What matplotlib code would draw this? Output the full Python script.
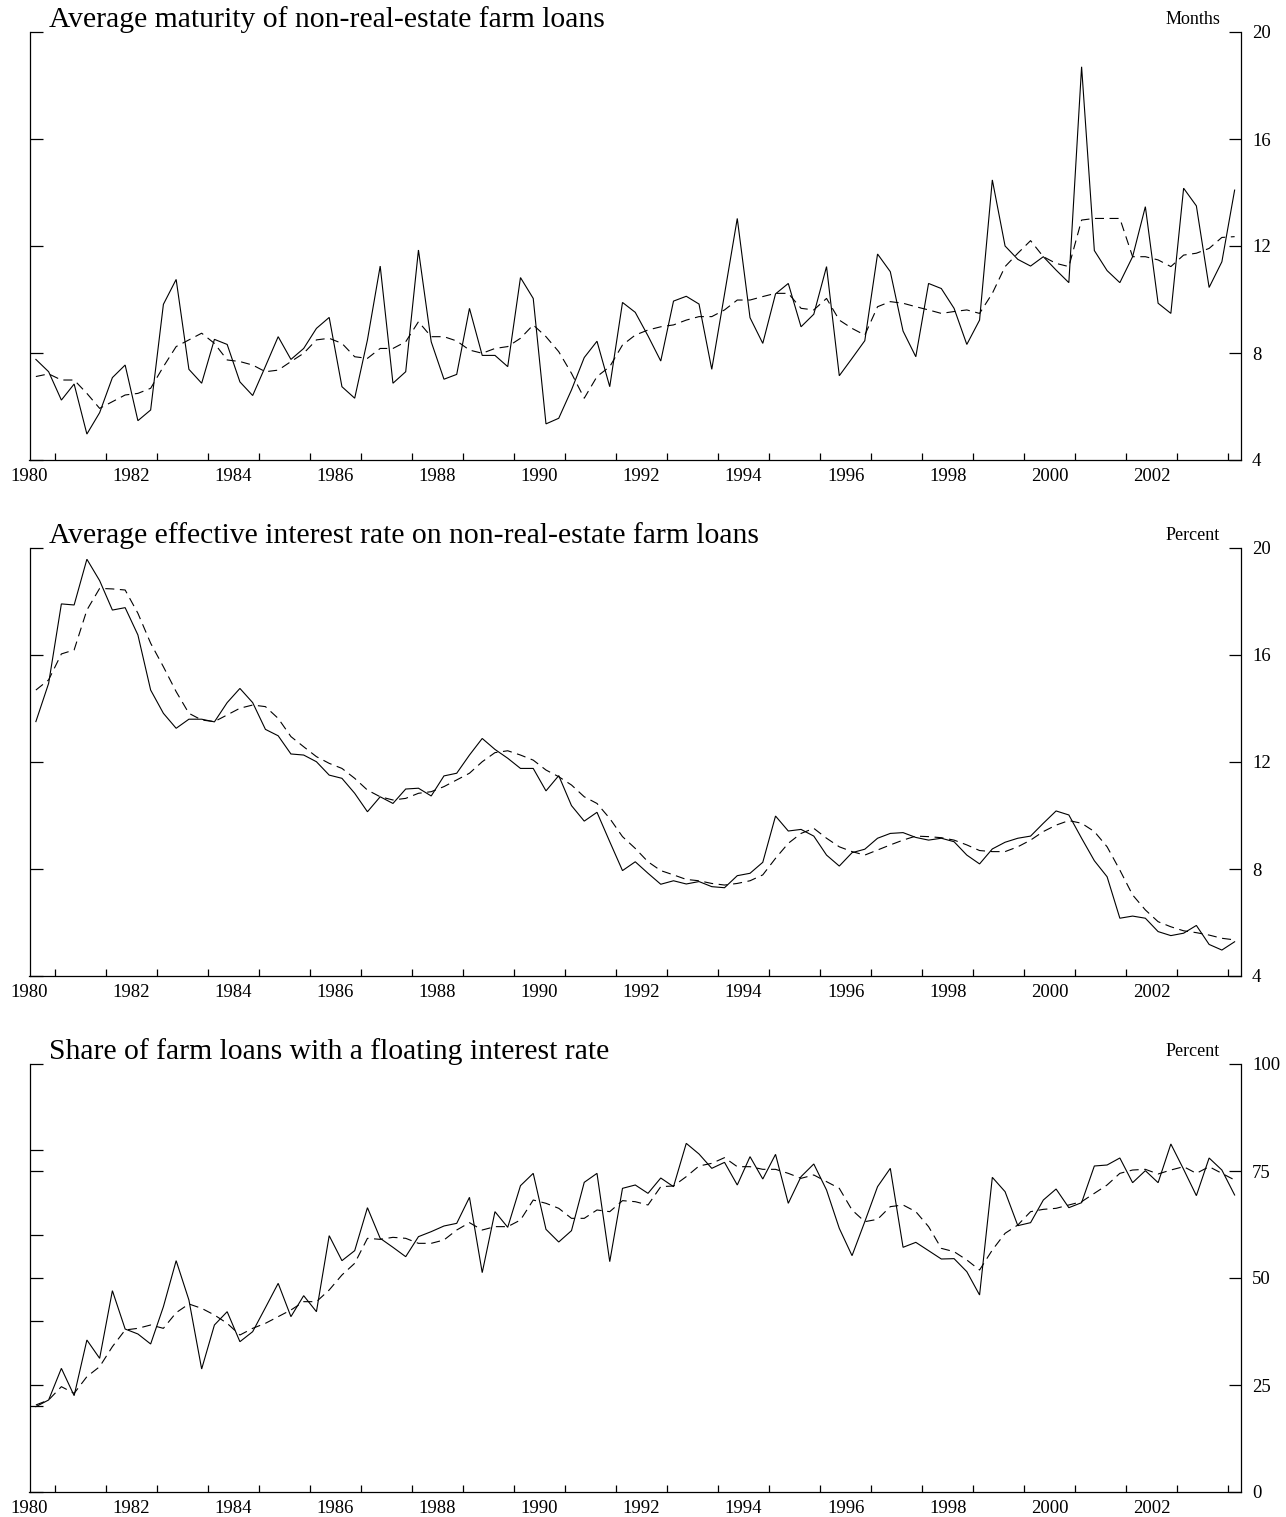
import numpy as np
import pandas as pd
import matplotlib
matplotlib.use("Agg")
import matplotlib.pyplot as plt
from matplotlib.ticker import FixedLocator, NullFormatter

plt.rcParams['font.family'] = ['Liberation Serif', 'DejaVu Serif']
plt.rcParams['lines.scale_dashes'] = False

# ---------------- data (quarterly, 1980Q1 - 2003Q3) ----------------
start_quarter = '1980Q1'
n_quarters = 95

maturity = [7.76, 7.30, 6.24, 6.84, 4.97, 5.77, 7.08, 7.55, 5.47, 5.87,
            9.82, 10.75, 7.39, 6.87, 8.51, 8.32, 6.92, 6.41, 7.50, 8.61,
            7.76, 8.17, 8.92, 9.33, 6.74, 6.31, 8.49, 11.25, 6.87, 7.30,
            11.85, 8.42, 7.02, 7.20, 9.67, 7.91, 7.91, 7.49, 10.82, 10.04,
            5.35, 5.56, 6.62, 7.83, 8.44, 6.74, 9.89, 9.52, 8.64, 7.70,
            9.94, 10.12, 9.83, 7.39, 10.20, 13.03, 9.32, 8.36, 10.21, 10.60,
            8.98, 9.45, 11.23, 7.15, 7.80, 8.46, 11.70, 11.04, 8.82, 7.86,
            10.60, 10.41, 9.67, 8.32, 9.23, 14.47, 12.00, 11.50, 11.25, 11.60,
            11.10, 10.63, 18.70, 11.83, 11.08, 10.63, 11.60, 13.47, 9.86, 9.48,
            14.16, 13.50, 10.45, 11.41, 14.09]
maturity_avg = [7.12, 7.22, 6.99, 6.99, 6.49, 5.93, 6.18, 6.43, 6.49, 6.68,
                7.49, 8.24, 8.49, 8.74, 8.36, 7.74, 7.68, 7.55, 7.30, 7.36,
                7.68, 7.99, 8.49, 8.55, 8.36, 7.86, 7.80, 8.17, 8.17, 8.42,
                9.17, 8.61, 8.61, 8.45, 8.11, 7.99, 8.17, 8.24, 8.55, 9.05,
                8.61, 8.05, 7.24, 6.31, 7.12, 7.49, 8.30, 8.67, 8.86, 8.98,
                9.05, 9.23, 9.36, 9.36, 9.61, 9.98, 9.98, 10.11, 10.23, 10.23,
                9.67, 9.61, 10.04, 9.23, 8.92, 8.67, 9.73, 9.92, 9.86, 9.73,
                9.61, 9.48, 9.55, 9.61, 9.48, 10.23, 11.23, 11.73, 12.20, 11.60,
                11.35, 11.23, 12.97, 13.03, 13.03, 13.03, 11.60, 11.60, 11.48, 11.23,
                11.66, 11.73, 11.91, 12.32, 12.35]

rate = [13.51, 14.94, 17.91, 17.87, 19.58, 18.78, 17.68, 17.77, 16.75, 14.69,
        13.82, 13.26, 13.60, 13.60, 13.50, 14.22, 14.75, 14.22, 13.22, 12.98,
        12.30, 12.26, 12.01, 11.51, 11.39, 10.83, 10.14, 10.70, 10.45, 10.99,
        11.02, 10.73, 11.48, 11.58, 12.26, 12.88, 12.47, 12.14, 11.76, 11.76,
        10.92, 11.49, 10.37, 9.79, 10.12, 9.02, 7.94, 8.27, 7.84, 7.43,
        7.56, 7.44, 7.53, 7.34, 7.30, 7.75, 7.84, 8.25, 9.98, 9.42,
        9.48, 9.23, 8.52, 8.11, 8.61, 8.74, 9.15, 9.33, 9.36, 9.18,
        9.08, 9.15, 9.02, 8.52, 8.19, 8.75, 9.00, 9.15, 9.23, 9.71,
        10.17, 10.02, 9.15, 8.31, 7.71, 6.16, 6.24, 6.16, 5.66, 5.51,
        5.60, 5.89, 5.18, 4.97, 5.28]
rate_avg = [14.69, 15.07, 16.04, 16.19, 17.68, 18.49, 18.47, 18.43, 17.56, 16.44,
            15.56, 14.63, 13.82, 13.57, 13.51, 13.76, 14.01, 14.13, 14.07, 13.63,
            12.95, 12.57, 12.20, 11.95, 11.76, 11.39, 10.95, 10.70, 10.58, 10.64,
            10.83, 10.89, 11.08, 11.33, 11.58, 12.01, 12.35, 12.42, 12.26, 12.07,
            11.70, 11.45, 11.14, 10.70, 10.45, 9.89, 9.21, 8.77, 8.27, 7.94,
            7.78, 7.61, 7.56, 7.46, 7.40, 7.46, 7.56, 7.78, 8.40, 8.96,
            9.33, 9.52, 9.15, 8.83, 8.65, 8.52, 8.71, 8.90, 9.08, 9.23,
            9.21, 9.17, 9.08, 8.90, 8.69, 8.65, 8.65, 8.83, 9.08, 9.40,
            9.64, 9.81, 9.71, 9.40, 8.83, 7.96, 7.03, 6.47, 6.03, 5.84,
            5.69, 5.62, 5.53, 5.41, 5.35]

floating = [19.94, 21.50, 28.89, 22.51, 35.51, 31.23, 47.04, 38.08, 36.92, 34.58,
            43.30, 54.05, 44.86, 28.74, 39.02, 42.13, 35.12, 37.46, 43.07, 48.75,
            40.97, 45.87, 42.13, 59.89, 54.05, 56.39, 66.43, 59.27, 57.17, 54.98,
            59.66, 60.83, 62.15, 62.77, 68.85, 51.25, 65.50, 61.84, 71.57, 74.45,
            61.37, 58.41, 61.06, 72.35, 74.45, 53.82, 70.95, 71.73, 69.78, 73.36,
            71.34, 81.46, 78.97, 75.62, 77.02, 71.73, 78.35, 73.13, 78.89, 67.45,
            73.68, 76.64, 70.56, 61.60, 55.22, 63.16, 71.34, 75.62, 57.17, 58.33,
            56.39, 54.44, 54.52, 51.48, 46.03, 73.52, 70.17, 62.23, 62.93, 68.22,
            70.79, 66.43, 67.60, 76.17, 76.40, 78.04, 72.27, 75.08, 72.27, 81.31,
            75.39, 69.24, 78.04, 75.23, 69.39]
floating_avg = [20.33, 21.50, 24.61, 23.05, 26.95, 29.28, 33.96, 37.85, 38.24, 39.02,
                38.24, 41.90, 43.93, 42.91, 41.36, 39.41, 36.68, 38.24, 39.41, 40.97,
                42.52, 44.47, 44.47, 47.20, 50.70, 53.43, 59.27, 59.03, 59.50, 59.27,
                58.10, 58.10, 58.88, 61.21, 62.93, 61.21, 62.00, 62.00, 63.55, 68.22,
                67.45, 66.28, 63.94, 63.94, 65.89, 65.50, 68.07, 67.83, 67.06, 71.34,
                71.50, 73.68, 76.17, 76.79, 78.12, 76.01, 76.01, 75.39, 75.39, 74.45,
                73.29, 74.07, 72.51, 70.95, 65.89, 63.16, 63.71, 66.67, 67.06, 65.50,
                62.00, 56.93, 56.15, 54.21, 51.87, 56.54, 60.44, 62.38, 65.50, 66.04,
                66.28, 67.06, 67.83, 69.78, 71.73, 74.45, 75.23, 75.39, 74.30, 75.23,
                76.01, 74.45, 76.01, 74.45, 72.90]

titles = ['Average maturity of non-real-estate farm loans',
          'Average effective interest rate on non-real-estate farm loans',
          'Share of farm loans with a floating interest rate']
units = ['Months', 'Percent', 'Percent']
ylims = [(4, 20), (4, 20), (0, 100)]
yticks = [[4, 8, 12, 16, 20], [4, 8, 12, 16, 20], [0, 25, 50, 75, 100]]
yticks_left_extra = [[], [], [20, 40, 60, 80]]
xlabel_years = list(range(1980, 2003, 2))

# quarter midpoints as decimal years
periods = pd.period_range(start_quarter, periods=n_quarters, freq='Q')
t = np.array([p.year + (p.quarter - 1) * 0.25 + 0.125 for p in periods])

series = [(maturity, maturity_avg), (rate, rate_avg), (floating, floating_avg)]

W, H = 1286, 1517
fig = plt.figure(figsize=(W / 100, H / 100), dpi=100)
fig.patch.set_facecolor('white')

left_px, right_px = 29.5, 1241.0
panels_px = [(32, 460), (548, 976), (1064, 1492)]

for i, ((solid, dashed), (top, bot)) in enumerate(zip(series, panels_px)):
    ax = fig.add_axes([left_px / W, 1 - bot / H, (right_px - left_px) / W, (bot - top) / H])
    ax.plot(t, solid, color='black', lw=0.8, solid_joinstyle='miter')
    ax.plot(t, dashed, color='black', lw=0.8, linestyle=(0, (6.5, 4.0)))
    ax.set_xlim(1980.0, 2003.75)
    ax.set_ylim(*ylims[i])

    for s in ['left', 'right', 'bottom']:
        ax.spines[s].set_linewidth(0.9)
    ax.spines['top'].set_visible(False)

    # x axis: labels at even years (no mark), tick marks mid-year
    ax.xaxis.set_major_locator(FixedLocator(xlabel_years))
    ax.set_xticklabels([str(y) for y in xlabel_years])
    ax.xaxis.set_minor_locator(FixedLocator([y + 0.5 for y in range(1980, 2004)]))
    ax.xaxis.set_minor_formatter(NullFormatter())
    ax.tick_params(axis='x', which='major', length=0, pad=6, labelsize=13.5)
    ax.tick_params(axis='x', which='minor', direction='in', length=5, width=0.9,
                   bottom=True, top=False)

    # y axis: labels on right, ticks inward on both sides
    ax.yaxis.set_major_locator(FixedLocator(yticks[i]))
    ax.set_yticklabels([str(v) for v in yticks[i]])
    ax.tick_params(axis='y', which='major', direction='in', length=9, width=0.9,
                   left=True, right=True, labelleft=False, labelright=True,
                   pad=8, labelsize=13.5)
    if yticks_left_extra[i]:
        ax.yaxis.set_minor_locator(FixedLocator(yticks_left_extra[i]))
        ax.yaxis.set_minor_formatter(NullFormatter())
        ax.tick_params(axis='y', which='minor', direction='in', length=9, width=0.9,
                       left=True, right=False)
    else:
        ax.yaxis.set_minor_locator(FixedLocator([]))

    h = bot - top
    ax.text((49 - left_px) / (right_px - left_px), 1 + 5 / h, titles[i],
            transform=ax.transAxes, ha='left', va='baseline', fontsize=21.3)
    ax.text((1220 - left_px) / (right_px - left_px), 1 + 8 / h, units[i],
            transform=ax.transAxes, ha='right', va='baseline', fontsize=13)

fig.savefig('out.png', dpi=100, facecolor='white')
